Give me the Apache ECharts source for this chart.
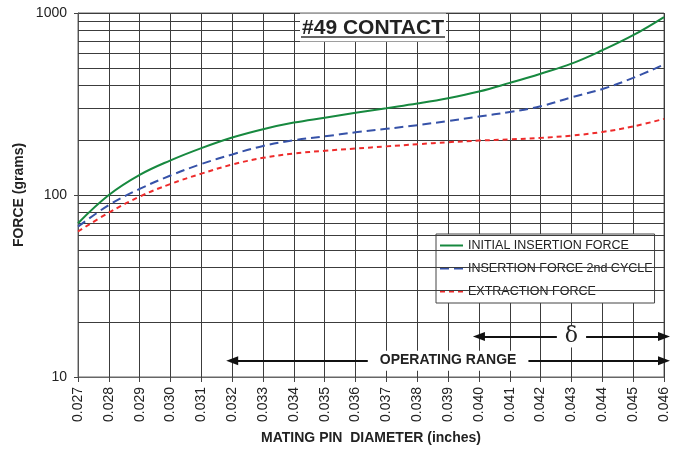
<!DOCTYPE html>
<html><head><meta charset="utf-8">
<script src="https://cdn.jsdelivr.net/npm/echarts@6/dist/echarts.min.js"></script>
<style>html,body{margin:0;padding:0;background:#fff}#c{width:678px;height:450px}</style>
</head><body><div id="c"></div>
<script>
const categories = ['0.027','0.028','0.029','0.030','0.031','0.032','0.033','0.034','0.035','0.036','0.037','0.038','0.039','0.040','0.041','0.042','0.043','0.044','0.045','0.046'];
const initialInsertion = [70,100,129,155,181,207,230,250,266,283,300,318,340,370,413,464,527,624,755,950];
const insertion2nd = [67,88,108,128,148,167,186,200,210,221,231,242,255,270,286,307,344,382,440,521];
const extraction = [63,80,98,115,131,147,160,169,175,180,185,190,195,199,202,206,212,222,238,262];
const minorGridValues = [20,30,40,50,60,70,80,90,200,300,400,500,600,700,800,900];
const seriesNames = ['INITIAL INSERTION FORCE','INSERTION FORCE 2nd CYCLE','EXTRACTION FORCE'];
const operatingRange = {from:'0.032', to:'0.046', mid:'0.039', y:12.3, label:'OPERATING RANGE'};
const deltaRange = {from:'0.040', to:'0.046', mid:'0.043', y:16.7, label:'δ'};

const FONT = '"Liberation Sans", Arial, sans-serif';
const chart = echarts.init(document.getElementById('c'), null, {renderer:'canvas'});
const arrowLine = (r) => [{coord:[r.from, r.y], symbol:'triangle'}, {coord:[r.to, r.y], symbol:'triangle'}];
chart.setOption({
  animation:false,
  backgroundColor:'#fff',
  grid:{left:78, right:14, top:13, bottom:73, show:true, borderColor:'#666', borderWidth:1, outerBoundsMode:'none', containLabel:false},
  xAxis:{
    type:'category', data:categories, boundaryGap:false,
    axisLine:{show:true, lineStyle:{color:'#666', width:1}},
    axisTick:{show:true, length:5, interval:0, lineStyle:{color:'#444'}},
    axisLabel:{interval:0, rotate:90, margin:10, fontFamily:FONT, fontSize:14, color:'#222'},
    splitLine:{show:true, interval:0, lineStyle:{color:'#3c3c3c', width:1}},
    name:'MATING PIN  DIAMETER (inches)', nameLocation:'middle', nameGap:54, nameMoveOverlap:false,
    nameTextStyle:{fontFamily:FONT, fontWeight:'bold', fontSize:14, color:'#222'}
  },
  yAxis:{
    type:'log', logBase:10, min:10, max:1000,
    axisLine:{show:true, lineStyle:{color:'#555', width:1}},
    axisTick:{show:true, length:4, lineStyle:{color:'#444'}},
    axisLabel:{margin:11, fontFamily:FONT, fontSize:14, color:'#222', formatter:(v)=>String(Math.round(v))},
    splitLine:{show:true, lineStyle:{color:'#3c3c3c', width:1}},
    minorTick:{show:false}, minorSplitLine:{show:false},
    name:'FORCE (grams)', nameLocation:'middle', nameGap:52, nameMoveOverlap:false,
    nameTextStyle:{fontFamily:FONT, fontWeight:'bold', fontSize:14, color:'#222'}
  },
  legend:{
    data:seriesNames, orient:'vertical', left:436, top:234,
    backgroundColor:'#fff', borderColor:'#444', borderWidth:1,
    padding:[5,2,5,3], itemGap:10, itemWidth:23, itemHeight:14,
    itemStyle:{opacity:0},
    textStyle:{fontFamily:FONT, fontSize:12.5, color:'#222'}
  },
  graphic:[
    {type:'rect', shape:{x:300, y:13.5, width:146, height:28}, style:{fill:'#fff'}, z:10},
    {type:'text', x:373, y:28, style:{text:'#49 CONTACT', font:'bold 21px "Liberation Sans", Arial, sans-serif', fill:'#222', textAlign:'center', textVerticalAlign:'middle'}, z:11},
    {type:'line', shape:{x1:301, y1:37, x2:445, y2:37}, style:{stroke:'#666', lineWidth:2}, z:11}
  ],
  series:[
    {name:'minorGrid', type:'line', data:[], z:1, silent:true,
     markLine:{silent:true, symbol:['none','none'], label:{show:false},
       lineStyle:{color:'#3c3c3c', width:1, type:'solid'},
       data:minorGridValues.map(v=>({yAxis:v}))}},
    {name:seriesNames[0], type:'line', data:initialInsertion, smooth:0.4, showSymbol:false, symbol:'none', z:5,
     lineStyle:{color:'#17893f', width:2, type:'solid'}, itemStyle:{color:'#17893f'}},
    {name:seriesNames[1], type:'line', data:insertion2nd, smooth:0.4, showSymbol:false, symbol:'none', z:5,
     lineStyle:{color:'#3652a8', width:2, type:[9,5]}, itemStyle:{color:'#3652a8'}},
    {name:seriesNames[2], type:'line', data:extraction, smooth:0.4, showSymbol:false, symbol:'none', z:5,
     lineStyle:{color:'#ee2b2b', width:2, type:[5,4]}, itemStyle:{color:'#ee2b2b'}},
    {name:'arrows', type:'line', data:[], z:3, silent:true,
     markLine:{silent:true, symbolSize:[9,12], label:{show:false},
       lineStyle:{color:'#111', width:2, type:'solid'},
       data:[arrowLine(operatingRange), arrowLine(deltaRange)]}},
    {name:'arrowLabels', type:'line', data:[], z:4, silent:true,
     markPoint:{silent:true, symbol:'rect', symbolSize:1, itemStyle:{color:'rgba(0,0,0,0)'},
       data:[
         {coord:[operatingRange.mid, operatingRange.y], label:{show:true, position:'inside', formatter:operatingRange.label, backgroundColor:'#fff', padding:[3,12], fontFamily:FONT, fontWeight:'bold', fontSize:14, color:'#222'}},
         {coord:[deltaRange.mid, deltaRange.y], label:{show:true, position:'inside', formatter:deltaRange.label, backgroundColor:'#fff', padding:[0,8], fontFamily:'"DejaVu Serif", "Liberation Serif", serif', fontSize:22, color:'#222'}}
       ]}}
  ]
});
</script></body></html>
